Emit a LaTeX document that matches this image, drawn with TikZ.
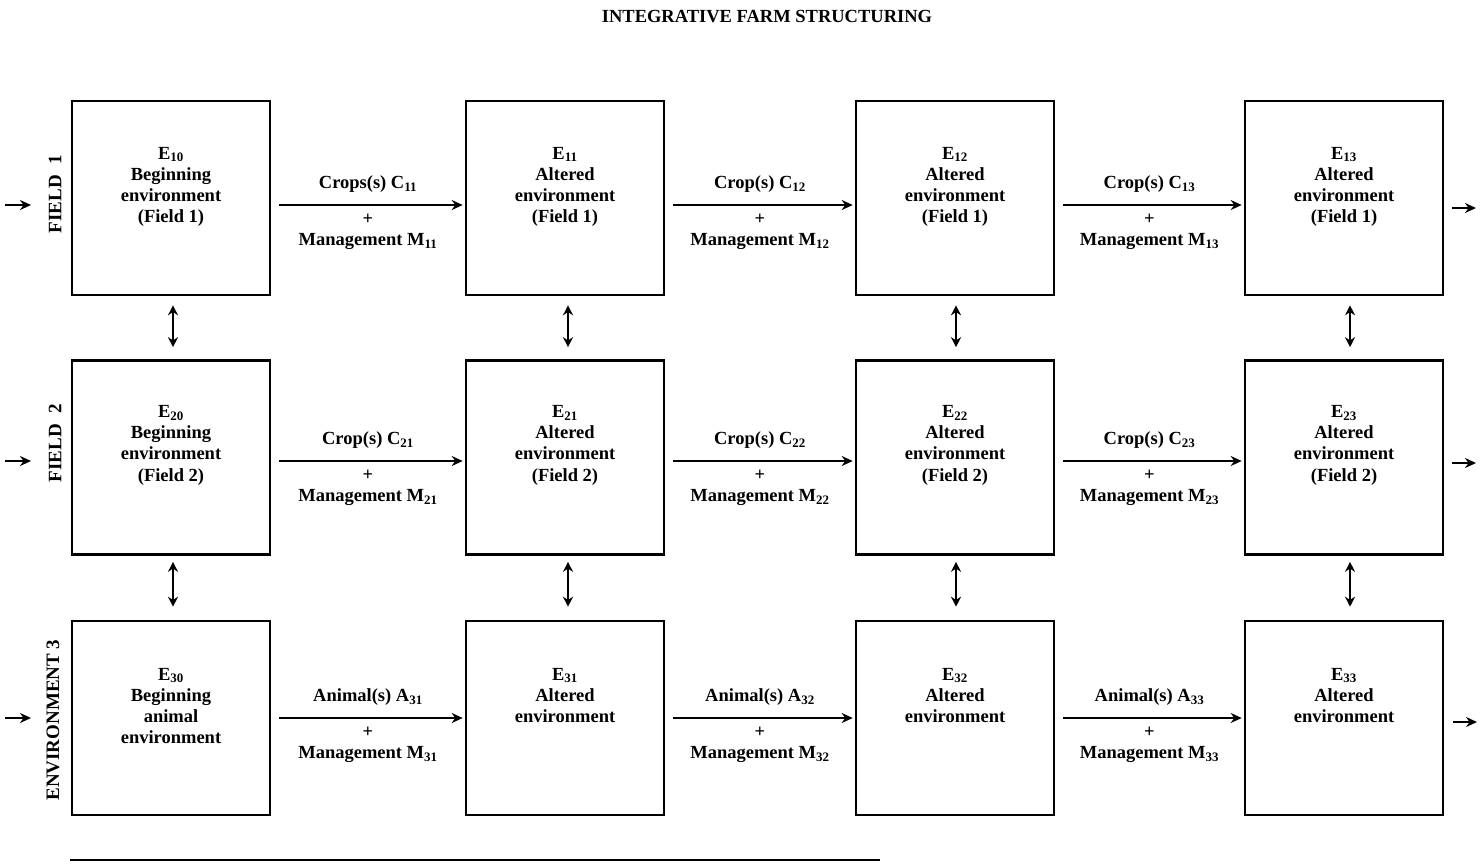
\documentclass[tikz,border=0pt]{standalone}
\usepackage{fontspec}
\setmainfont{Liberation Serif}
\usetikzlibrary{arrows.meta}
\begin{document}
\begin{tikzpicture}[x=1pt,y=-1pt,
  box/.style={draw, line width=2.6pt, minimum width=198pt, minimum height=194pt, inner sep=0pt},
  txt/.style={font=\fontsize{18.5}{21.2}\selectfont\bfseries, align=center, inner sep=0pt, anchor=north},
  lab/.style={font=\fontsize{18.5}{21.2}\selectfont\bfseries, align=center, inner sep=0pt},
  flow/.style={-{Stealth[length=11pt,width=10pt]}, line width=2pt},
  link/.style={{Stealth[length=10pt,width=10pt]}-{Stealth[length=10pt,width=10pt]}, line width=2pt},
  side/.style={font=\fontsize{19}{21}\selectfont\bfseries, rotate=90, inner sep=0pt},
  ttl/.style={font=\fontsize{18.5}{20}\selectfont\bfseries, inner sep=0pt}]
\useasboundingbox (0,0) rectangle (1483,863);

\node[ttl] (title) at (767,17) {INTEGRATIVE FARM STRUCTURING};

% boxes
\foreach \c/\x in {0/171,1/565,2/955,3/1344}{
  \node[box] (b1\c) at (\x,198) {};
  \node[box] (b2\c) at (\x,457.5) {};
  \node[box] (b3\c) at (\x,718) {};
}

% box texts
\node[txt] (t10) at ([yshift=-47pt]b10.north) {E\textsubscript{10}\\Beginning\\environment\\(Field 1)};
\node[txt] (t11) at ([yshift=-47pt]b11.north) {E\textsubscript{11}\\Altered\\environment\\(Field 1)};
\node[txt] (t12) at ([yshift=-47pt]b12.north) {E\textsubscript{12}\\Altered\\environment\\(Field 1)};
\node[txt] (t13) at ([yshift=-47pt]b13.north) {E\textsubscript{13}\\Altered\\environment\\(Field 1)};
\node[txt] (t20) at ([yshift=-46pt]b20.north) {E\textsubscript{20}\\Beginning\\environment\\(Field 2)};
\node[txt] (t21) at ([yshift=-46pt]b21.north) {E\textsubscript{21}\\Altered\\environment\\(Field 2)};
\node[txt] (t22) at ([yshift=-46pt]b22.north) {E\textsubscript{22}\\Altered\\environment\\(Field 2)};
\node[txt] (t23) at ([yshift=-46pt]b23.north) {E\textsubscript{23}\\Altered\\environment\\(Field 2)};
\node[txt] (t30) at ([yshift=-48pt]b30.north) {E\textsubscript{30}\\Beginning\\animal\\environment};
\node[txt] (t31) at ([yshift=-48pt]b31.north) {E\textsubscript{31}\\Altered\\environment};
\node[txt] (t32) at ([yshift=-48pt]b32.north) {E\textsubscript{32}\\Altered\\environment};
\node[txt] (t33) at ([yshift=-48pt]b33.north) {E\textsubscript{33}\\Altered\\environment};

% horizontal flows
\foreach \r/\dy/\w/\l in {1/-7/{Crop(s) C}/1, 2/-3.5/{Crop(s) C}/2, 3/0/{Animal(s) A}/3}{
  \foreach \a/\b in {0/1,1/2,2/3}{
    \draw[flow, shorten <=8pt, shorten >=2pt] ([yshift=\dy pt]b\r\a.east) -- ([yshift=\dy pt]b\r\b.west)
      node[lab, midway, yshift=21pt] (u\r\b) {\ifnum\r\b=11 Crops(s) C\else\w\fi\textsubscript{\l\b}}
      node[lab, midway, yshift=-27pt] (m\r\b) {+\\Management M\textsubscript{\l\b}};
  }
}

% vertical links
\foreach \c/\dx in {0/2,1/3,2/1,3/6}{
  \draw[link, shorten <=9pt, shorten >=12pt] ([xshift=\dx pt]b1\c.south) -- ([xshift=\dx pt]b2\c.north);
  \draw[link, shorten <=6pt, shorten >=13pt] ([xshift=\dx pt]b2\c.south) -- ([xshift=\dx pt]b3\c.north);
}

% entry and exit arrows
\coordinate (i1a) at (5,205);   \coordinate (i1b) at (31,205);
\coordinate (i2a) at (5,461);   \coordinate (i2b) at (31,461);
\coordinate (i3a) at (5,718);   \coordinate (i3b) at (31,718);
\coordinate (o1a) at (1452,208); \coordinate (o1b) at (1476,208);
\coordinate (o2a) at (1452,463); \coordinate (o2b) at (1476,463);
\coordinate (o3a) at (1453,722); \coordinate (o3b) at (1477,722);
\foreach \k in {1,2,3}{
  \draw[flow, line width=1.8pt] (i\k a) -- (i\k b);
  \draw[flow, line width=1.8pt] (o\k a) -- (o\k b);
}

% side labels
\node[side] (s1) at (55,194) {FIELD\hspace{11pt}1};
\node[side] (s2) at (55,443) {FIELD\hspace{11pt}2};
\node[side] (s3) at (53,720) {ENVIRONMENT 3};

% bottom rule
\coordinate (r1) at (70,860);
\coordinate (r2) at (880,860);
\draw[line width=2pt] (r1) -- (r2);
\end{tikzpicture}
\end{document}
